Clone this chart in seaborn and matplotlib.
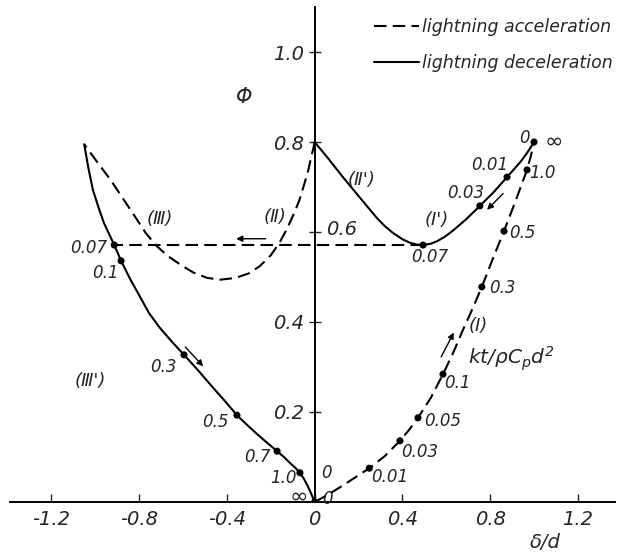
import matplotlib
matplotlib.use("Agg")
import matplotlib.pyplot as plt
import seaborn as sns

# Curve (I): lightning acceleration, dashed, origin -> (1.0, 0.8)
acc1_x = [0, 0.06, 0.12, 0.18, 0.249, 0.32, 0.389, 0.43, 0.471, 0.53, 0.585,
          0.63, 0.672, 0.72, 0.762, 0.81, 0.863, 0.915, 0.968, 0.985, 1.0]
acc1_y = [0, 0.016, 0.034, 0.053, 0.075, 0.102, 0.136, 0.16, 0.187, 0.232, 0.284,
          0.33, 0.378, 0.43, 0.478, 0.538, 0.602, 0.668, 0.738, 0.768, 0.8]

# Curve (II)/(III): lightning acceleration, dashed, (0, 0.8) -> (-1.05, 0.795)
acc2_x = [0, -0.006, -0.014, -0.03, -0.048, -0.07, -0.095, -0.125, -0.16, -0.2,
          -0.25, -0.3, -0.36, -0.43, -0.49, -0.553, -0.61, -0.67, -0.72, -0.77,
          -0.81, -0.87, -0.93, -0.99, -1.05]
acc2_y = [0.8, 0.785, 0.77, 0.735, 0.705, 0.67, 0.64, 0.608, 0.576, 0.548,
          0.524, 0.508, 0.498, 0.494, 0.498, 0.51, 0.527, 0.547, 0.569, 0.598,
          0.628, 0.672, 0.716, 0.755, 0.795]

# Horizontal dashed jump at the 0.07 points
jump_x = [0.494, -0.913]
jump_y = [0.571, 0.571]

# Curve (II')/(I'): lightning deceleration, solid
dec1_x = [0, 0.056, 0.129, 0.207, 0.284, 0.32, 0.357, 0.40, 0.435, 0.465, 0.494,
          0.53, 0.56, 0.595, 0.63, 0.69, 0.753, 0.815, 0.877, 0.94, 0.97, 1.0]
dec1_y = [0.8, 0.767, 0.722, 0.676, 0.631, 0.613, 0.598, 0.584, 0.576, 0.572, 0.571,
          0.574, 0.58, 0.59, 0.603, 0.628, 0.658, 0.688, 0.722, 0.757, 0.777, 0.8]

# Curve (III'): lightning deceleration, solid
dec2_x = [-1.05, -1.03, -1.01, -0.985, -0.96, -0.935, -0.913, -0.882, -0.84, -0.80,
          -0.755, -0.705, -0.65, -0.595, -0.53, -0.47, -0.41, -0.354, -0.305, -0.26,
          -0.215, -0.171, -0.14, -0.115, -0.09, -0.067, -0.048, -0.03, -0.016,
          -0.006, 0]
dec2_y = [0.795, 0.74, 0.693, 0.655, 0.62, 0.594, 0.571, 0.536, 0.495, 0.46,
          0.42, 0.387, 0.356, 0.327, 0.292, 0.258, 0.225, 0.193, 0.17, 0.15,
          0.131, 0.113, 0.1, 0.088, 0.077, 0.065, 0.051, 0.034, 0.019,
          0.007, 0]

# kt/rho Cp d^2 marks
dots_x = [0.249, 0.389, 0.471, 0.585, 0.762, 0.863, 0.968, 1.0,
          0.877, 0.753, 0.494,
          -0.913, -0.882, -0.595, -0.354, -0.171, -0.067, 0]
dots_y = [0.075, 0.136, 0.187, 0.284, 0.478, 0.602, 0.738, 0.8,
          0.722, 0.658, 0.571,
          0.571, 0.536, 0.327, 0.193, 0.113, 0.065, 0]

# value labels next to the marks
val_text = ["0.01", "0.03", "0.05", "0.1", "0.3", "0.5", "1.0", "0", "∞",
            "0.01", "0.03", "0.07",
            "0.07", "0.1", "0.3", "0.5", "0.7", "1.0", "∞", "0", "0"]
val_x = [0.343, 0.48, 0.585, 0.653, 0.858, 0.945, 1.036, 0.958, 1.09,
         0.80, 0.69, 0.526,
         -1.03, -0.955, -0.69, -0.454, -0.262, -0.144, -0.071, 0.056, 0.06]
val_y = [0.056, 0.111, 0.18, 0.264, 0.476, 0.598, 0.731, 0.809, 0.802,
         0.749, 0.687, 0.544,
         0.564, 0.509, 0.30, 0.178, 0.10, 0.053, 0.013, 0.064, 0.007]

# branch names
branch_text = ["(Ⅲ)", "(Ⅱ)", "(Ⅱ')", "(I')", "(I)", "(Ⅲ')"]
branch_x = [-0.704, -0.18, 0.216, 0.558, 0.745, -1.023]
branch_y = [0.629, 0.633, 0.716, 0.627, 0.39, 0.269]

# direction arrows: (tail, head)
arrows = [((-0.21, 0.585), (-0.37, 0.585)),
          ((-0.598, 0.349), (-0.499, 0.297)),
          ((0.868, 0.69), (0.777, 0.645)),
          ((0.571, 0.317), (0.640, 0.382))]

xticks = [-1.2, -0.8, -0.4, 0, 0.4, 0.8, 1.2]
xtick_labels = ["-1.2", "-0.8", "-0.4", "0", "0.4", "0.8", "1.2"]
yticks = [0.2, 0.4, 0.6, 0.8, 1.0]
ytick_labels = ["0.2", "0.4", "", "0.8", "1.0"]

sns.set_style("white")
plt.rcParams["font.family"] = ["DejaVu Sans"]
plt.rcParams["font.style"] = "italic"
plt.rcParams["mathtext.fontset"] = "dejavusans"

fig = plt.figure(figsize=(6.22, 5.52), dpi=100)
ax = fig.add_axes([0.0161, 0.0906, 0.9727, 0.8967])

dash = (0, (6, 3))
lw = 1.5
sns.lineplot(x=acc1_x, y=acc1_y, sort=False, estimator=None, ax=ax,
             color="black", lw=lw, linestyle=dash, label="lightning acceleration")
sns.lineplot(x=dec1_x, y=dec1_y, sort=False, estimator=None, ax=ax,
             color="black", lw=lw, label="lightning deceleration")
sns.lineplot(x=acc2_x, y=acc2_y, sort=False, estimator=None, ax=ax,
             color="black", lw=lw, linestyle=dash)
sns.lineplot(x=jump_x, y=jump_y, sort=False, estimator=None, ax=ax,
             color="black", lw=lw, linestyle=dash)
sns.lineplot(x=dec2_x, y=dec2_y, sort=False, estimator=None, ax=ax,
             color="black", lw=lw)
sns.scatterplot(x=dots_x, y=dots_y, ax=ax, color="black", s=26,
                edgecolor="none", zorder=5, legend=False)

for t, x, y in zip(val_text, val_x, val_y):
    ax.text(x, y, t, fontsize=16 if t == "∞" else 12, ha="center", va="center")
for t, x, y in zip(branch_text, branch_x, branch_y):
    ax.text(x, y, t, fontsize=13, ha="center", va="center")
for tail, head in arrows:
    ax.annotate("", xy=head, xytext=tail,
                arrowprops=dict(arrowstyle="-|>", color="black", lw=1.0,
                                mutation_scale=9))

ax.text(0.70, 0.318, r"$kt/\rho C_p d^2$", fontsize=14.5, ha="left", va="center")
ax.text(-0.32, 0.9, "Φ", fontsize=15, ha="center", va="center")
ax.text(0.05, 0.605, "0.6", fontsize=14, ha="left", va="center")
ax.text(1.05, -0.091, "δ/d", fontsize=14, ha="center", va="center")

# axes through the origin
ax.set_xlim(-1.388, 1.369)
ax.set_ylim(0, 1.1)
ax.spines["left"].set_position(("data", 0))
ax.spines["bottom"].set_position(("data", 0))
ax.spines["top"].set_visible(False)
ax.spines["right"].set_visible(False)
for s in ["left", "bottom"]:
    ax.spines[s].set_linewidth(1.4)
    ax.spines[s].set_color("black")
ax.set_xticks(xticks)
ax.set_xticklabels(xtick_labels, fontsize=14)
ax.set_yticks(yticks)
ax.set_yticklabels(ytick_labels, fontsize=14)
ax.tick_params(axis="x", direction="in", length=6, width=1, pad=6, bottom=True)
ax.tick_params(axis="y", direction="inout", length=9, width=1, pad=3, left=True)
ax.set_xlabel("")
ax.set_ylabel("")

leg = ax.legend(loc="upper right", bbox_to_anchor=(1.005, 0.99),
                bbox_transform=fig.transFigure, frameon=False, fontsize=12.5,
                handlelength=2.6, handletextpad=0.2, labelspacing=1.05,
                borderaxespad=0.3)

fig.savefig("out.png", dpi=100)
